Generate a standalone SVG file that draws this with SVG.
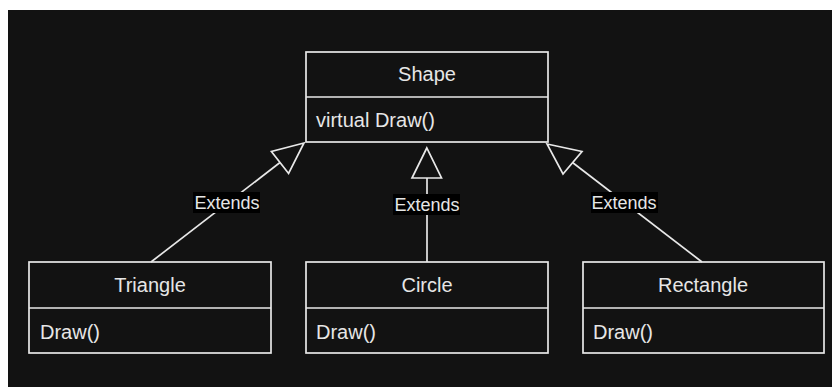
<svg xmlns="http://www.w3.org/2000/svg" width="832" height="387" viewBox="0 0 832 387">
<style>
.box{fill:#121212;stroke:#e8e8e8;stroke-width:1.7}
.div{stroke:#e8e8e8;stroke-width:1.7}
.t{font-family:"Liberation Sans",Arial,sans-serif;font-size:20px;fill:#e6e6e6}
.c{text-anchor:middle}
.edge{stroke:#e8e8e8;stroke-width:1.7;fill:none}
.head{fill:#121212;stroke:#e8e8e8;stroke-width:1.7;stroke-linejoin:miter}
.lbg{fill:#000000}
.lt{font-family:"Liberation Sans",Arial,sans-serif;font-size:18px;fill:#e6e6e6;text-anchor:middle}
</style>
<rect x="0" y="0" width="832" height="387" fill="#ffffff"/>
<rect x="8" y="10" width="824" height="377" fill="#121212"/>
<g id="shape">
<rect class="box" x="306" y="52" width="242" height="90"/>
<line class="div" x1="306" y1="97" x2="548" y2="97"/>
<text class="t c" x="427" y="81">Shape</text>
<text class="t" x="316" y="127">virtual Draw()</text>
</g>
<g id="triangle">
<rect class="box" x="29" y="262" width="242" height="91"/>
<line class="div" x1="29" y1="308" x2="271" y2="308"/>
<text class="t c" x="150" y="292">Triangle</text>
<text class="t" x="40" y="339">Draw()</text>
</g>
<g id="circle">
<rect class="box" x="306" y="262" width="242" height="91"/>
<line class="div" x1="306" y1="308" x2="548" y2="308"/>
<text class="t c" x="427" y="292">Circle</text>
<text class="t" x="316" y="339">Draw()</text>
</g>
<g id="rectangle">
<rect class="box" x="583" y="262" width="241" height="91"/>
<line class="div" x1="583" y1="308" x2="824" y2="308"/>
<text class="t c" x="703" y="292">Rectangle</text>
<text class="t" x="593" y="339">Draw()</text>
</g>
<g id="connectors">
<line class="edge" x1="151" y1="262" x2="280" y2="162.5"/>
<polygon class="head" points="304,143 271.4,151.5 288.6,173.5"/>
<rect class="lbg" x="193" y="192" width="67" height="21"/>
<text class="lt" x="227" y="208.5">Extends</text>
<line class="edge" x1="427" y1="262" x2="427" y2="178"/>
<polygon class="head" points="426.8,148 412,178 441.5,178"/>
<rect class="lbg" x="393" y="194" width="67" height="21"/>
<text class="lt" x="427" y="210.5">Extends</text>
<line class="edge" x1="702" y1="262" x2="572.5" y2="162.5"/>
<polygon class="head" points="547,144 582,151.5 563,174"/>
<rect class="lbg" x="591" y="192" width="67" height="21"/>
<text class="lt" x="624" y="208.5">Extends</text>
</g>
</svg>
